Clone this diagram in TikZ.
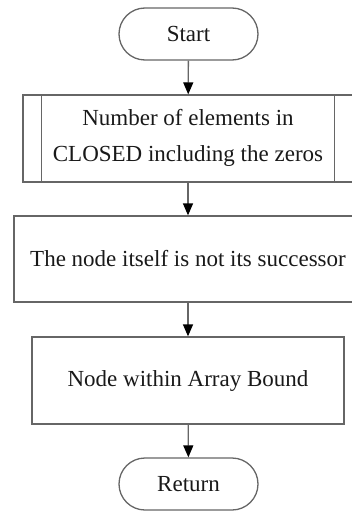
\documentclass[tikz,border=0pt]{standalone}
\usepackage{fontspec}
\setmainfont{Liberation Serif}
\usetikzlibrary{arrows.meta,shapes.misc}
\begin{document}
\begin{tikzpicture}[x=1pt,y=-1pt,
  every node/.style={font=\fontsize{23}{36}\selectfont, text=black!90, align=center, inner sep=0pt},
  term/.style={draw=black!60, line width=1.3pt, rounded rectangle, minimum width=139pt, minimum height=52pt},
  proc/.style={draw=black!60, line width=1.3pt, rectangle},
  conn/.style={draw=black!60, line width=1.3pt, -{Triangle[width=10pt,length=12pt,fill=black,color=black]}}
]
\useasboundingbox (0,0) rectangle (352,511);
\node[term] (start) at (188.5,34) {Start};
\node[proc, minimum width=330pt, minimum height=87pt, text depth=6pt] (num) at (188,138.5) {Number of elements in\\CLOSED including the zeros};
\draw[black!60, line width=1.3pt] ([xshift=19pt]num.north west) -- ([xshift=19pt]num.south west);
\draw[black!60, line width=1.3pt] ([xshift=-19pt]num.north east) -- ([xshift=-19pt]num.south east);
\node[proc, minimum width=348pt, minimum height=86pt] (self) at (188,259) {The node itself is not its successor};
\node[proc, minimum width=312pt, minimum height=87pt] (bound) at (188,380.5) {Node within Array Bound};
\node[term] (ret) at (188.5,484) {Return};
\draw[conn] (start) -- (num);
\draw[conn] (num) -- (self);
\draw[conn] (self) -- (bound);
\draw[conn] (bound) -- (ret);
\end{tikzpicture}
\end{document}
